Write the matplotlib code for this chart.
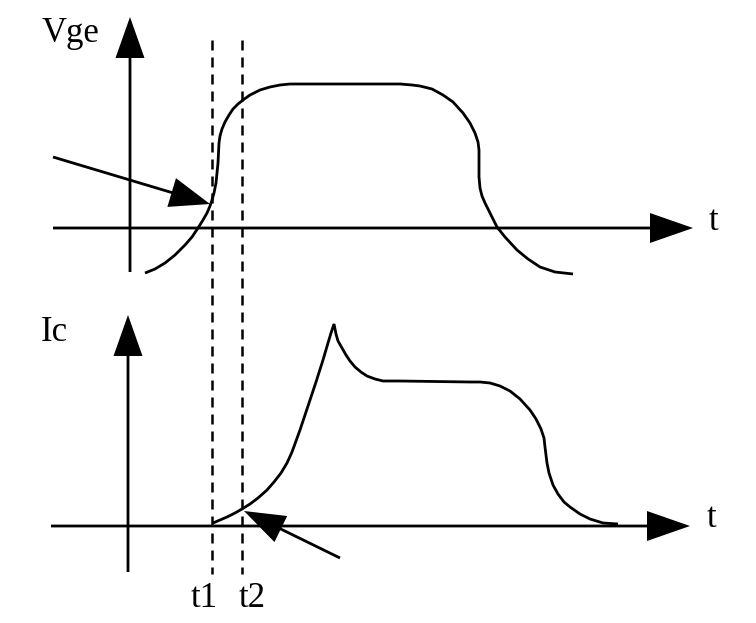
import matplotlib
matplotlib.use("Agg")
import matplotlib.pyplot as plt

# ---- data (pixel coordinates, y downwards) ----
# Vge waveform (top panel)
vge_x = [145, 155, 165, 175, 185, 192, 198, 203, 207, 210, 212, 214, 216, 217, 218, 218.5, 219,
         220, 222, 225, 229, 233, 238, 243, 250, 260, 270, 280, 290, 300,
         400, 412, 420, 432, 443, 453, 463, 470, 475, 478, 479, 479, 480, 482, 485, 490, 497,
         505, 517, 528, 540, 555, 573]
vge_y = [273, 269, 263, 255, 245, 237, 228, 220, 213, 206, 200, 193, 183, 173, 163, 153, 143,
         136, 129, 122, 115, 109, 104, 100, 95, 90, 87, 85, 84, 84,
         84, 85, 86, 89, 95, 102, 113, 123, 133, 142, 150, 177, 188, 196, 203, 213, 227,
         237, 250, 259, 267, 272, 274]

# Ic waveform (bottom panel)
ic_x = [213, 220, 227, 235, 242, 250, 258, 267, 274, 281, 287, 292, 296, 300, 305, 310, 316, 323,
        328, 331, 334,
        336, 338, 342, 346, 350, 355, 361, 367, 375, 383, 400,
        470, 480, 490, 500, 510, 520, 530, 536, 541, 544, 545, 546, 547, 549, 553, 558, 564, 570,
        580, 590, 603, 618]
ic_y = [523, 520, 517, 513, 509, 504, 498, 490, 482, 473, 463, 452, 441, 430, 415, 400, 382, 360,
        343, 333, 324,
        334, 341, 348, 355, 361, 367, 372, 376, 379, 381, 381,
        382, 382, 383, 386, 391, 399, 410, 419, 429, 438, 447, 455, 463, 473, 485, 494, 502, 507,
        514, 519, 523, 524]

# axes of the two panels
top_axis = dict(x0=130, y0=228, ytip=17, ybot=272, xstart=53, xtip=693)
bot_axis = dict(x0=128, y0=526, ytip=315, ybot=572, xstart=51, xtip=690)

# marker time lines
t_lines = [212, 242]
t_labels = ["t1", "t2"]
t_line_top, t_line_bot = 40, 574

# pointer arrows (start -> tip)
pointer_top = ((53, 157), (210, 204))
pointer_bot = ((340, 558), (244, 511))

# ---- drawing ----
fig = plt.figure(figsize=(7.56, 6.23), dpi=100)
ax = fig.add_axes([0, 0, 1, 1])
ax.set_xlim(0, 756)
ax.set_ylim(623, 0)
ax.axis("off")

LW = 2.0
serif = ["Liberation Serif", "DejaVu Serif"]
FS = 25


def arrow(x0, y0, x1, y1, hw=30, hl=42):
    ax.arrow(x0, y0, x1 - x0, y1 - y0, width=2.8, head_width=hw, head_length=hl,
             length_includes_head=True, color="black", lw=0, zorder=4)


for a in (top_axis, bot_axis):
    arrow(a["x0"], a["ybot"], a["x0"], a["ytip"], hw=29, hl=41)
    arrow(a["xstart"], a["y0"], a["xtip"], a["y0"], hw=30, hl=43)

ax.plot(vge_x, vge_y, color="black", lw=LW, solid_joinstyle="round", solid_capstyle="butt")
ax.plot(ic_x, ic_y, color="black", lw=LW, solid_joinstyle="miter", solid_capstyle="butt")

for x in t_lines:
    ax.plot([x, x], [t_line_top, t_line_bot], color="black", lw=1.8, dashes=(4, 2.8))

(s, t) = pointer_top
arrow(s[0], s[1], t[0], t[1], hw=30, hl=40)
(s, t) = pointer_bot
arrow(s[0], s[1], t[0], t[1], hw=29, hl=41)

ax.text(42, 42, "Vge", fontsize=FS, family=serif, ha="left", va="baseline")
ax.text(41, 341, "Ic", fontsize=FS, family=serif, ha="left", va="baseline")
ax.text(709, 230, "t", fontsize=FS, family=serif, ha="left", va="baseline")
ax.text(707, 527, "t", fontsize=FS, family=serif, ha="left", va="baseline")
ax.text(191, 607, t_labels[0], fontsize=FS, family=serif, ha="left", va="baseline")
ax.text(239, 607, t_labels[1], fontsize=FS, family=serif, ha="left", va="baseline")

fig.savefig("out.png", dpi=100, facecolor="white")
